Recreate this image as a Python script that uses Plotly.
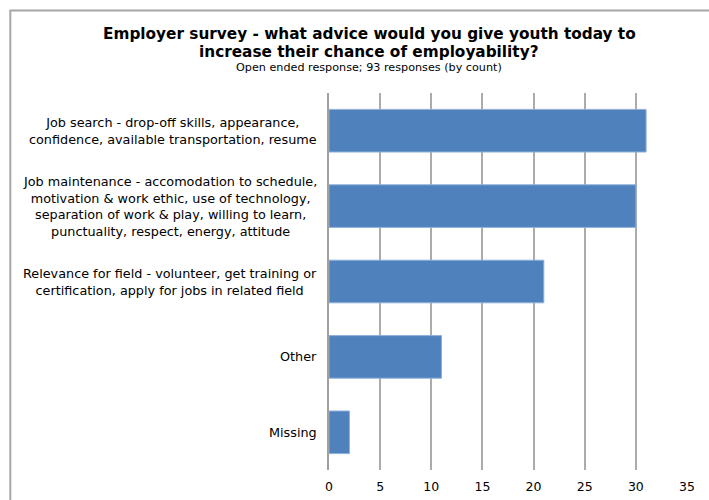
import plotly.graph_objects as go

# Survey answers (count of responses per theme)
categories = [
    "Job search - drop-off skills, appearance,<br>confidence, available transportation, resume",
    "Job maintenance - accomodation to schedule,<br>motivation & work ethic, use of technology,<br>separation of work & play, willing to learn,<br>punctuality, respect, energy, attitude",
    "Relevance for field - volunteer, get training or<br>certification, apply for jobs in related field",
    "Other",
    "Missing",
]
counts = [31, 30, 21, 11, 2]
x_ticks = [0, 5, 10, 15, 20, 25, 30, 35]

title_lines = [
    "Employer survey - what advice would you give youth today to",
    "increase their chance of employability?",
]
subtitle_text = "Open ended response; 93 responses (by count)"

W, H = 709, 500
L, R, T, B = 328.7, 22.3, 92.5, 30.0
plot_w = W - L - R
plot_h = H - T - B


def paper_x(px):
    return (px - L) / plot_w


def paper_y(py):
    return (H - B - py) / plot_h


FONT = "DejaVu Sans"

fig = go.Figure(
    go.Bar(
        x=counts,
        y=list(range(len(categories))),
        orientation="h",
        marker=dict(color="#4F81BD", line=dict(color="#8DB0DA", width=1)),
        width=0.565,
        hoverinfo="x",
    )
)

# Category labels: centred multi-line blocks right-aligned against the axis
annotations = []
for i, cat in enumerate(categories):
    annotations.append(
        dict(
            x=0, xref="x", y=i, yref="y",
            text=cat, showarrow=False,
            xanchor="right", yanchor="middle", align="center",
            xshift=-10,
            font=dict(family=FONT, size=12.8, color="#000000"),
        )
    )

# Title, one annotation per line for tighter leading
for line, py in zip(title_lines, [33.5, 51]):
    annotations.append(
        dict(
            x=paper_x(369), xref="paper", y=paper_y(py), yref="paper",
            text="<b>" + line + "</b>", showarrow=False,
            xanchor="center", yanchor="middle", align="center",
            font=dict(family=FONT, size=15.3, color="#000000"),
        )
    )
annotations.append(
    dict(
        x=paper_x(369), xref="paper", y=paper_y(66.5), yref="paper",
        text=subtitle_text, showarrow=False,
        xanchor="center", yanchor="middle", align="center",
        font=dict(family=FONT, size=11.2, color="#000000"),
    )
)

# Outer chart frame (left and top edges fall inside the page)
frame = dict(
    type="rect", xref="paper", yref="paper", layer="below",
    x0=paper_x(10), x1=paper_x(760),
    y0=paper_y(560), y1=paper_y(10),
    line=dict(color="#A6A6A6", width=2),
    fillcolor="rgba(0,0,0,0)",
)

fig.update_layout(
    width=W, height=H,
    margin=dict(l=L, r=R, t=T, b=B, pad=0, autoexpand=False),
    paper_bgcolor="white", plot_bgcolor="white",
    showlegend=False,
    annotations=annotations,
    shapes=[frame],
    xaxis=dict(
        range=[0, 35],
        tickvals=x_ticks,
        ticktext=[str(v) for v in x_ticks],
        showgrid=True, gridcolor="#ABABAB", gridwidth=1.5,
        zeroline=False, showline=False, ticks="",
        ticklabelstandoff=7,
        automargin=False,
        tickfont=dict(family=FONT, size=12.5, color="#000000"),
        fixedrange=True,
    ),
    yaxis=dict(
        range=[4.5, -0.5],
        showticklabels=False,
        showgrid=False, zeroline=False,
        showline=True, linecolor="#A0A0A0", linewidth=1.5,
        ticks="",
        automargin=False,
        fixedrange=True,
    ),
)

fig.write_html("out.html")
